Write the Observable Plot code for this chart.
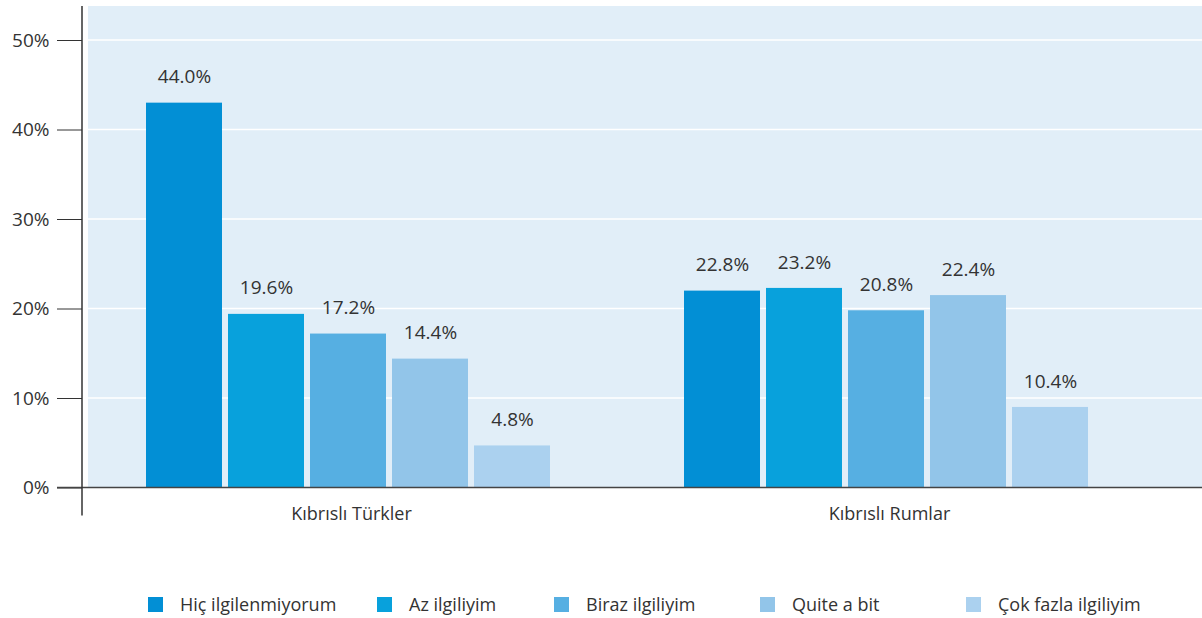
<!DOCTYPE html>
<html>
<head>
<meta charset="utf-8">
<script src="https://cdn.jsdelivr.net/npm/d3@7"></script>
<script src="https://cdn.jsdelivr.net/npm/@observablehq/plot@0.6"></script>
<style>
  html, body { margin: 0; padding: 0; background: #fff; }
  body { width: 1202px; height: 618px; overflow: hidden; font-family: "Open Sans", sans-serif; color: #333; }
  #legend { display: grid; grid-template-columns: 229px 177px 206px 206px auto; padding-left: 148px; margin-top: 52px; height: 22px; align-items: center; font-size: 18px; }
  .item { display: flex; align-items: center; }
  .sw { width: 15px; height: 15px; margin-right: 17px; flex: none; }
</style>
</head>
<body>
<div id="chart"></div>
<div id="legend"></div>
<script>
const groups = ["Kıbrıslı Türkler", "Kıbrıslı Rumlar"];
const series = ["Hiç ilgilenmiyorum", "Az ilgiliyim", "Biraz ilgiliyim", "Quite a bit", "Çok fazla ilgiliyim"];
const colors = ["#028fd5", "#08a1dc", "#56afe2", "#92c5e9", "#abd1ef"];
// bar heights as drawn in the picture (%)
const turkishBars = [43.0, 19.4, 17.2, 14.4, 4.7];
const greekBars = [22.0, 22.3, 19.8, 21.5, 9.0];
// value labels printed above the bars (%)
const turkishLabels = [44.0, 19.6, 17.2, 14.4, 4.8];
const greekLabels = [22.8, 23.2, 20.8, 22.4, 10.4];
const yTicks = [0, 10, 20, 30, 40, 50];

(function () {
const bars = [turkishBars, greekBars];
const labels = [turkishLabels, greekLabels];
const data = groups.flatMap((g, gi) => series.map((s, si) => ({
  group: g, series: s, value: bars[gi][si], label: labels[gi][si]
})));

const plot = Plot.plot({
  width: 1202,
  height: 540,
  marginTop: 6,
  marginBottom: 52.5,
  marginLeft: 82,
  marginRight: 44,
  style: {fontFamily: "'Open Sans', sans-serif", fontSize: "18px", color: "#333", background: "transparent", overflow: "visible"},
  fx: {domain: groups, padding: 0, label: null},
  x: {domain: series, axis: null, paddingInner: 6 / 82, paddingOuter: 0.817, align: 0.4776},
  y: {domain: [0, 53.8], label: null},
  color: {domain: series, range: colors},
  marks: [
    Plot.barY(data, {fx: "group", x: "series", y: "value", fill: "series"}),
    Plot.text(data, {fx: "group", x: "series", y: "value", text: d => d.label.toFixed(1) + "%", dy: -26, fill: "#333", fontSize: 19}),
    Plot.axisY({ticks: yTicks, tickFormat: d => d + "%", tickSize: 25, tickPadding: 8, fontSize: 19, color: "#333", label: null}),
    Plot.axisFx({anchor: "bottom", tickSize: 0, tickPadding: 19, fontSize: 18, color: "#333", label: null})
  ]
});

// full-width background, white gridlines, baseline and axis line drawn with the plot's y scale
const y = plot.scale("y");
const ns = "http://www.w3.org/2000/svg";
const bgX = 88, rightX = 1202, topY = 6, y0 = y.apply(0);
const under = document.createElementNS(ns, "g");
const sel = d3.select(under);
sel.append("rect").attr("x", bgX).attr("y", topY).attr("width", rightX - bgX).attr("height", y0 - topY).attr("fill", "#e1eef8");
sel.selectAll("line").data(yTicks.filter(t => t > 0)).join("line")
  .attr("x1", bgX).attr("x2", rightX)
  .attr("y1", t => y.apply(t)).attr("y2", t => y.apply(t))
  .attr("stroke", "#fff").attr("stroke-width", 1.5);
const styleEl = plot.querySelector("style");
plot.insertBefore(under, styleEl ? styleEl.nextSibling : plot.firstChild);
const over = d3.select(plot).append("g");
over.append("line").attr("x1", 57).attr("x2", rightX).attr("y1", y0).attr("y2", y0).attr("stroke", "#444").attr("stroke-width", 1.5);
over.append("line").attr("x1", 82).attr("x2", 82).attr("y1", topY).attr("y2", y0 + 28).attr("stroke", "#333").attr("stroke-width", 1.5);

document.getElementById("chart").appendChild(plot);

const legend = d3.select("#legend");
const items = legend.selectAll(".item").data(series).join("div").attr("class", "item");
items.append("span").attr("class", "sw").style("background", (d, i) => colors[i]);
items.append("span").text(d => d);
})();
</script>
</body>
</html>
